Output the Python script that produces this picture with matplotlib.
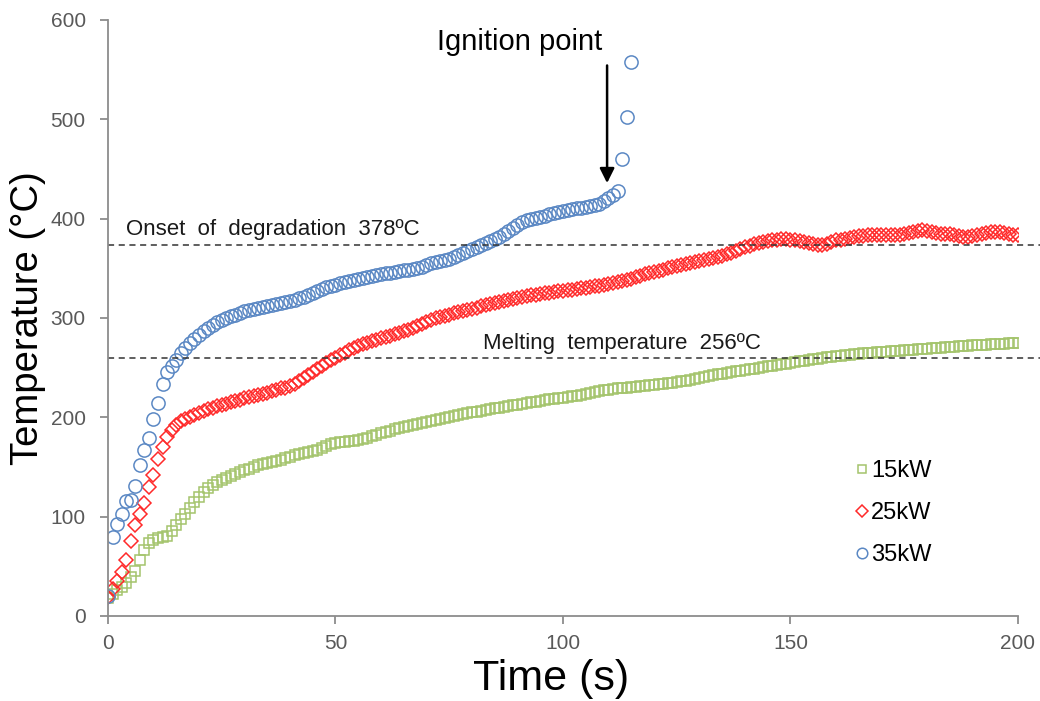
#! /usr/bin/env python3
"""
Surface temperature against time for three heat fluxes,
with the melting and degradation temperatures marked.
"""

import numpy as np
import matplotlib.pyplot as plt

plt.rcParams["font.family"] = ["Liberation Sans", "DejaVu Sans"]

# temperatures (degC), one reading per second from t = 0 s
temp_15kw = [
    18, 22, 26, 29, 33, 39, 45, 56, 66, 73, 76, 78, 79, 81, 86, 92, 98, 103, 109, 115,
    120, 125, 129, 132, 135, 137, 139, 141, 143, 145, 147, 148, 150, 152, 153, 154, 155, 156, 157, 159,
    160, 162, 163, 164, 165, 166, 167, 169, 171, 173, 174, 175, 175, 176, 176, 177, 178, 179, 181, 182,
    184, 185, 186, 188, 189, 190, 191, 192, 193, 194, 195, 196, 197, 198, 199, 200, 201, 202, 203, 204,
    205, 205, 206, 207, 208, 209, 209, 210, 211, 212, 212, 213, 214, 215, 215, 216, 217, 218, 218, 219,
    219, 220, 221, 221, 222, 223, 224, 225, 226, 227, 227, 228, 229, 230, 230, 231, 231, 232, 232, 233,
    233, 234, 234, 235, 235, 236, 237, 237, 238, 239, 240, 241, 242, 243, 244, 244, 245, 246, 247, 247,
    248, 249, 249, 250, 251, 252, 252, 253, 254, 254, 255, 256, 257, 257, 258, 259, 259, 260, 261, 261,
    262, 262, 263, 263, 264, 264, 265, 265, 265, 266, 266, 266, 267, 267, 267, 268, 268, 268, 269, 269,
    269, 270, 270, 270, 271, 271, 271, 272, 272, 272, 273, 273, 273, 273, 274, 274, 274, 274, 275, 275,
    275,
]
temp_25kw = [
    19, 27, 35, 44, 56, 75, 92, 103, 114, 130, 142, 158, 170, 180, 187, 192, 196, 198, 200, 202,
    204, 206, 208, 209, 211, 212, 213, 215, 216, 217, 219, 220, 221, 222, 223, 224, 226, 227, 229, 230,
    232, 234, 237, 240, 243, 246, 249, 252, 255, 258, 260, 263, 265, 268, 270, 272, 274, 275, 277, 278,
    280, 281, 282, 284, 285, 287, 288, 290, 292, 294, 296, 298, 300, 301, 302, 303, 305, 306, 307, 308,
    309, 310, 312, 313, 314, 315, 316, 317, 318, 319, 320, 321, 322, 323, 323, 324, 325, 325, 326, 327,
    327, 328, 328, 329, 330, 330, 331, 332, 332, 333, 334, 335, 336, 337, 338, 339, 341, 342, 344, 345,
    346, 347, 348, 350, 351, 352, 353, 354, 355, 356, 357, 358, 359, 360, 361, 362, 364, 365, 367, 369,
    371, 372, 374, 375, 376, 377, 378, 379, 380, 380, 379, 378, 377, 376, 375, 374, 373, 373, 374, 376,
    378, 379, 380, 381, 382, 383, 383, 384, 384, 384, 384, 384, 384, 384, 384, 385, 386, 387, 388, 389,
    388, 387, 386, 385, 385, 385, 384, 383, 382, 382, 383, 384, 385, 386, 387, 387, 387, 386, 385, 384,
    384,
]
temp_35kw = [
    20, 80, 93, 103, 116, 117, 131, 152, 167, 179, 198, 214, 234, 246, 252, 258, 265, 270, 275, 279,
    283, 287, 290, 293, 296, 298, 300, 302, 303, 305, 307, 308, 309, 310, 311, 312, 313, 314, 315, 316,
    317, 318, 320, 321, 323, 325, 327, 329, 331, 332, 333, 335, 336, 337, 338, 339, 340, 341, 342, 343,
    344, 345, 345, 346, 347, 348, 348, 349, 350, 351, 353, 355, 356, 357, 358, 359, 361, 363, 365, 367,
    369, 371, 373, 375, 377, 380, 382, 385, 388, 391, 394, 397, 399, 400, 401, 402, 403, 405, 406, 407,
    408, 409, 410, 411, 411, 412, 413, 414, 415, 418, 421, 424, 428, 460, 502, 558,
]
labels = ["15kW", "25kW", "35kW"]

onset_temp = 373.5
melt_temp = 260
ignition_time = 109.7


def plot_series(ax):
    """
    Hollow markers for each heat flux
    """
    styles = [
        ("s", "#a4c46c", temp_15kw, 7.5),
        ("D", "#ff2a2a", temp_25kw, 7.5),
        ("o", "#5b88c4", temp_35kw, 9.5),
    ]
    for label, (marker, colour, temps, size) in zip(labels, styles):
        times = np.arange(len(temps))
        ax.plot(
            times,
            temps,
            linestyle="none",
            marker=marker,
            ms=size,
            mfc="none",
            mec=colour,
            mew=1.1,
            label=label,
        )


def plot_guides(ax):
    """
    Dashed reference temperatures and the ignition arrow
    """
    for temp in (onset_temp, melt_temp):
        ax.plot(
            [0, 205], [temp, temp], color="#333333", linestyle=(0, (4, 3)),
            linewidth=1.1, clip_on=False,
        )
    ax.text(4, 378, "Onset  of  degradation  378ºC", fontsize=16, color="#1a1a1a",
            va="bottom")
    ax.text(82.5, 264, "Melting  temperature  256ºC", fontsize=16, color="#1a1a1a",
            va="bottom")
    ax.annotate(
        "",
        xy=(ignition_time, 433),
        xytext=(ignition_time, 557),
        arrowprops=dict(arrowstyle="-|>", color="black", lw=1.8, mutation_scale=22),
    )
    ax.text(90.5, 578, "Ignition point", fontsize=21, ha="center", va="center")


def main():
    """
    Driver code
    """
    fig = plt.figure(figsize=(10.4, 7.01), dpi=100)
    ax = fig.add_axes([0.1038, 0.1213, 0.875, 0.8502])

    plot_series(ax)
    plot_guides(ax)

    ax.set_xlim(0, 200)
    ax.set_ylim(0, 600)
    ax.set_xticks(np.arange(0, 201, 50))
    ax.set_yticks(np.arange(0, 601, 100))
    for side in ("top", "right"):
        ax.spines[side].set_visible(False)
    for side in ("left", "bottom"):
        ax.spines[side].set_color("#8c8c8c")
        ax.spines[side].set_linewidth(1.3)
    ax.tick_params(colors="#8c8c8c", labelcolor="#595959", labelsize=15, length=6,
                   width=1.3)
    ax.tick_params(axis="y", pad=10)
    ax.tick_params(axis="x", pad=7)

    ax.set_xlabel("Time (s)", fontsize=31)
    ax.xaxis.set_label_coords(0.487, -0.072)
    ax.set_ylabel("Temperature (°C)", fontsize=27.5, labelpad=3)

    ax.legend(
        loc="center left", bbox_to_anchor=(0.797, 0.173), frameon=False, fontsize=17,
        handlelength=0.6, handletextpad=0.1, labelspacing=0.85, markerscale=0.8,
    )

    fig.savefig("out.png", dpi=100)


if __name__ == "__main__":
    main()
